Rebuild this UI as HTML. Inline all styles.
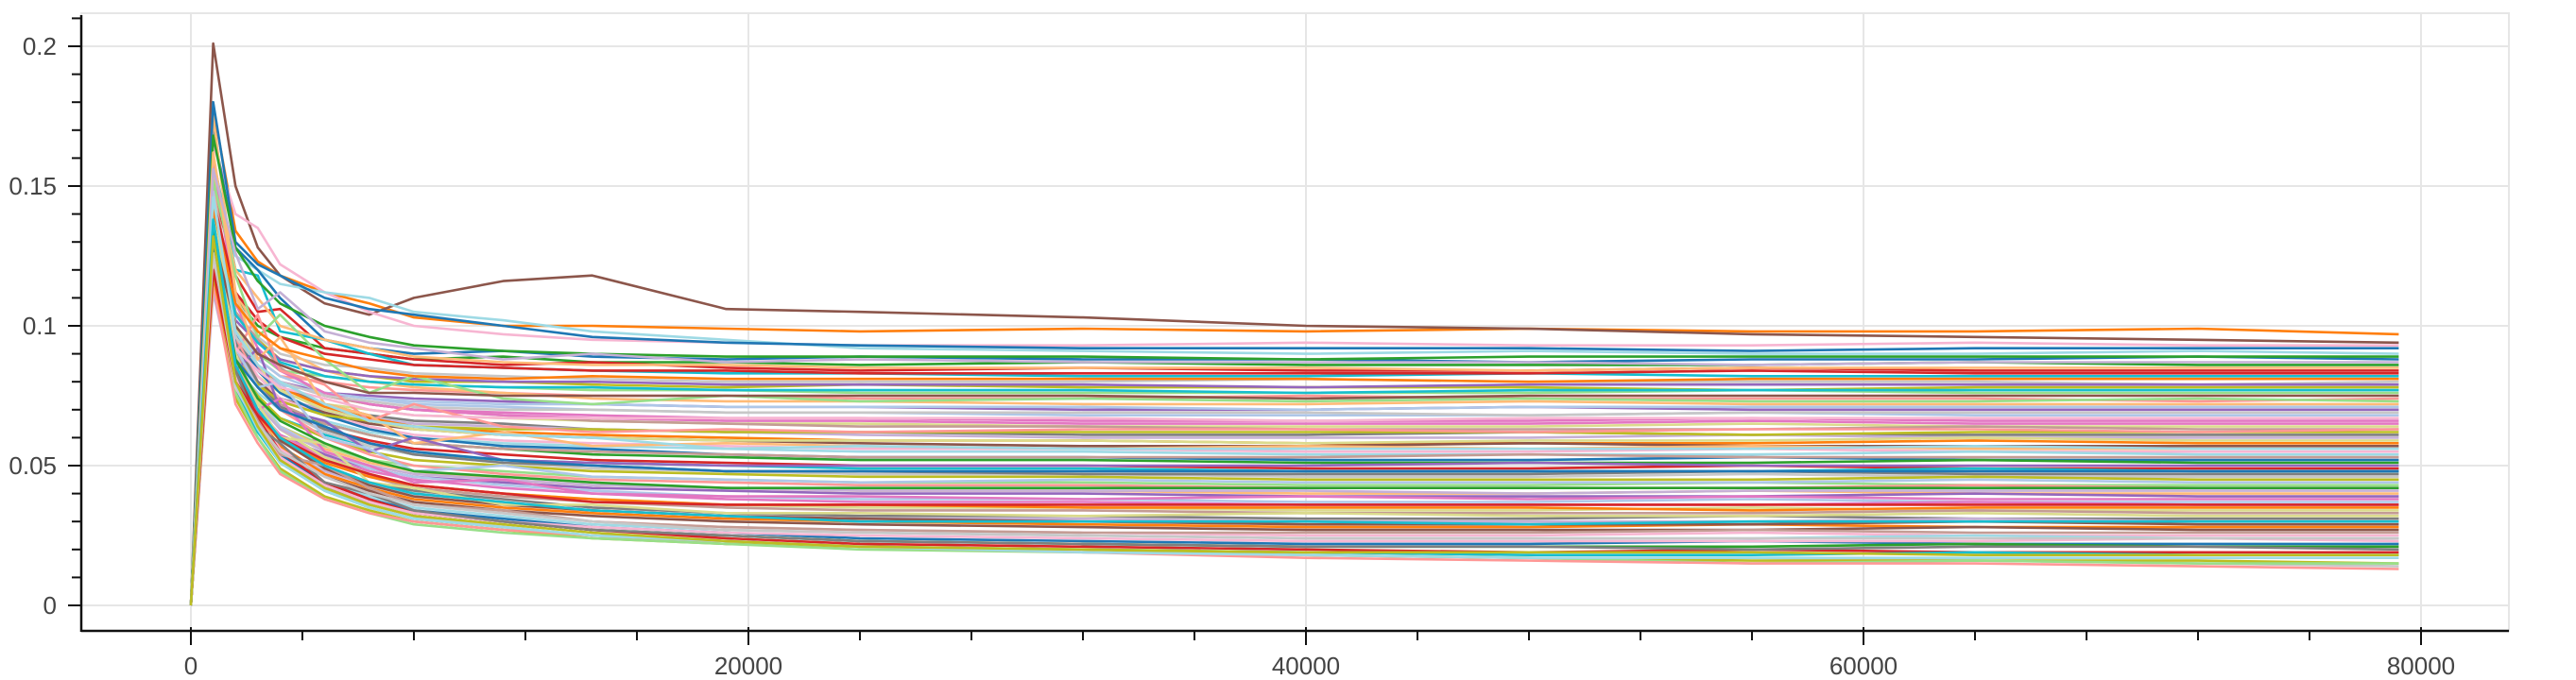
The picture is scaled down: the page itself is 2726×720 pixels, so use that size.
<!DOCTYPE html>
<html><head><meta charset="utf-8">
<style>
html,body{margin:0;padding:0;background:#fff;}
svg{display:block;}
text{font-family:"Liberation Sans",sans-serif;fill:#444;}
</style></head>
<body>
<svg id="chart" width="2726" height="720" viewBox="0 0 2726 720" xmlns="http://www.w3.org/2000/svg">
<g id="grid"></g>
<g id="series"></g>
<g id="axes"></g>
</svg>
<script>
const xSteps = [0,800,1600,2400,3200,4800,6400,8000,11200,14400,19200,24000,32000,40000,48000,56000,64000,72000,79200];
const xTickValues = [0,20000,40000,60000,80000];
const xTickLabels = ["0","20000","40000","60000","80000"];
const yTickValues = [0,0.05,0.1,0.15,0.2];
const yTickLabels = ["0","0.05","0.1","0.15","0.2"];
// series values in thousandths
const s1=[0,178,134,123,118,112,108,103,100,100,99,98,99,98,99,98,98,99,97];
const s2=[0,201,150,128,118,108,104,110,116,118,106,105,103,100,99,97,96,95,94];
const s3=[0,165,140,135,122,112,105,100,97,95,94,93,93,94,93,93,94,93,93];
const s4=[0,150,125,120,115,112,110,105,102,98,95,92,91,90,91,90,90,91,90];
const s5=[0,170,128,120,110,95,92,90,91,89,88,89,88,88,87,88,88,89,88];
const s6=[0,140,110,100,96,92,90,88,89,87,87,86,87,86,86,86,87,86,86];
const s7=[0,150,118,105,106,92,90,88,86,87,85,84,85,84,84,85,84,84,84];
const s8=[0,160,120,118,98,95,90,86,85,84,83,83,82,82,83,82,82,82,82];
const s9=[0,145,110,96,90,86,85,83,82,81,80,80,80,81,80,80,80,79,80];
const s10=[0,140,105,95,88,84,82,80,80,79,78,79,78,78,78,77,78,78,78];
const s11=[0,135,100,90,84,82,80,79,78,77,77,76,76,76,76,77,76,76,76];
const s12=[0,130,98,88,82,80,78,77,76,75,75,74,74,75,74,74,74,73,74];
const s13=[0,175,112,98,92,84,80,78,76,74,73,73,72,72,73,72,72,72,72];
const s14=[0,125,94,85,80,76,75,74,73,72,71,71,70,70,71,70,70,70,70];
const s15=[0,140,100,88,82,76,74,72,71,70,69,69,68,68,68,69,68,68,68];
const s16=[0,128,96,85,80,75,72,70,69,68,67,67,66,66,66,67,66,66,66];
const s17=[0,120,90,82,76,72,70,68,67,66,65,65,64,64,64,65,64,64,64];
const s18=[0,150,105,95,85,75,72,70,68,66,65,64,64,63,63,63,64,63,63];
const s19=[0,132,95,84,78,72,68,66,65,63,62,62,61,61,62,61,61,61,61];
const s20=[0,118,88,80,74,70,67,65,64,63,62,61,60,60,60,61,60,60,60];
const s21=[0,140,98,86,78,71,67,64,62,61,60,59,59,58,58,58,59,58,58];
const s22=[0,125,90,80,74,69,65,63,61,60,59,58,57,57,58,57,57,57,57];
const s23=[0,135,94,82,74,68,64,61,59,58,57,56,56,55,55,56,55,55,55];
const s24=[0,115,85,76,70,66,62,60,58,57,56,55,55,54,54,54,55,54,54];
const s25=[0,145,98,84,76,68,63,60,57,56,54,53,53,52,52,53,52,52,52];
const s26=[0,122,88,78,71,65,61,58,56,54,53,52,52,51,51,51,52,51,51];
const s27=[0,130,90,78,70,63,59,56,54,52,51,50,50,49,49,50,49,49,49];
const s28=[0,118,84,74,67,61,57,54,52,51,50,49,49,48,48,48,49,48,48];
const s29=[0,138,92,79,70,62,57,54,51,49,48,47,47,46,46,47,46,46,46];
const s30=[0,125,86,75,67,60,55,52,50,48,47,46,46,45,45,45,46,45,45];
const s31=[0,120,84,72,64,57,52,50,48,46,45,44,44,43,43,44,43,43,43];
const s32=[0,150,96,80,70,60,54,50,47,45,44,43,43,42,42,42,43,42,42];
const s33=[0,128,86,73,64,56,51,48,45,43,42,41,41,40,40,41,40,40,40];
const s34=[0,115,80,69,61,54,49,46,44,42,41,40,40,39,39,39,40,39,39];
const s35=[0,135,88,74,64,55,49,46,43,41,39,38,38,37,37,38,37,37,37];
const s36=[0,122,83,70,61,53,48,45,42,40,38,37,37,36,36,36,37,36,36];
const s37=[0,140,88,73,63,53,47,43,40,38,36,35,35,34,34,35,34,34,34];
const s38=[0,118,80,68,59,51,46,42,39,37,35,34,34,33,33,33,34,33,33];
const s39=[0,130,84,70,60,50,44,41,38,35,33,32,32,31,31,32,31,31,31];
const s40=[0,112,76,65,56,48,43,40,37,34,32,31,31,30,30,30,31,30,30];
const s41=[0,125,80,67,57,47,42,38,35,33,31,30,29,28,28,29,28,28,28];
const s42=[0,118,77,64,55,46,41,37,34,32,30,29,28,27,27,27,28,27,27];
const s43=[0,132,82,67,56,46,40,36,33,30,28,27,26,25,25,26,25,25,25];
const s44=[0,115,75,62,53,44,39,35,32,29,27,26,25,24,24,24,25,24,24];
const s45=[0,128,80,65,54,44,38,34,31,28,26,24,23,22,22,23,22,22,22];
const s46=[0,120,76,62,52,42,37,33,30,27,25,23,22,21,21,21,22,21,21];
const s47=[0,140,84,67,55,44,38,33,30,27,24,22,21,20,19,20,19,19,19];
const s48=[0,125,78,62,51,41,35,31,28,25,23,21,20,19,18,18,19,18,18];
const s49=[0,135,80,64,52,42,36,32,28,25,22,21,20,18,17,17,16,15,14];
const s50=[0,120,74,60,49,39,34,30,27,24,22,21,20,18,17,16,16,16,15];
const s51=[0,128,76,60,48,38,33,29,26,24,22,20,19,18,17,15,16,15,15];
const s52=[0,115,72,58,47,38,33,30,27,25,23,21,19,17,16,15,15,14,13];
const s53=[0,155,120,110,100,95,92,89,87,86,86,85,85,85,84,85,85,85,85];
const s54=[0,130,102,94,88,84,82,81,80,80,79,79,79,78,79,79,79,79,79];
const s55=[0,120,92,84,79,76,74,73,72,72,71,71,71,70,71,71,71,71,71];
const s56=[0,160,108,92,84,76,72,70,68,67,66,66,65,65,65,66,65,65,65];
const s57=[0,148,100,86,77,70,66,63,61,60,59,59,59,58,59,59,60,59,59];
const s58=[0,128,90,79,72,65,61,58,56,55,54,53,53,53,54,53,53,53,53];
const s59=[0,142,94,80,71,63,58,54,51,50,48,48,47,47,47,48,47,47,47];
const s60=[0,124,84,72,63,55,50,47,45,43,42,41,41,41,40,41,41,41,41];
const s61=[0,118,80,68,59,51,46,43,40,38,36,36,35,35,35,34,35,35,35];
const s62=[0,132,84,70,59,49,43,39,36,34,32,31,30,29,29,29,30,29,29];
const s63=[0,122,78,64,53,43,37,33,30,28,26,25,24,23,23,23,23,24,23];
const s64=[0,130,79,63,51,41,35,31,28,25,23,21,19,18,17,17,17,17,17];
const s65=[0,180,130,122,118,110,106,104,100,96,94,93,92,92,92,91,92,92,92];
const s66=[0,168,128,116,108,100,96,93,91,90,89,89,89,88,89,89,89,89,89];
const s67=[0,145,112,102,96,90,88,86,85,84,84,83,83,83,83,84,83,83,83];
const s68=[0,138,104,94,87,82,80,79,78,78,77,77,77,76,77,77,77,77,77];
const s69=[0,128,96,86,80,75,73,71,70,70,69,69,69,69,68,69,69,69,69];
const s70=[0,118,88,79,73,68,66,64,63,63,62,62,62,62,62,61,62,62,62];
const s71=[0,152,118,96,104,88,76,82,74,72,75,73,74,73,74,73,73,74,73];
const s72=[0,136,90,104,84,79,66,72,64,62,63,62,63,63,62,63,63,62,63];
const s73=[0,162,112,88,96,72,68,58,62,57,58,57,56,57,56,57,56,56,56];
const s74=[0,126,84,92,70,66,55,60,52,51,50,50,50,50,51,50,50,50,50];
const s75=[0,148,92,78,80,60,56,48,50,46,45,44,45,44,44,44,45,44,44];
const s76=[0,131,86,70,74,55,50,44,45,40,39,39,38,39,38,39,38,38,38];
const s77=[0,144,90,72,60,58,44,42,36,36,33,33,32,33,32,32,33,32,32];
const s78=[0,122,80,66,54,50,42,36,34,30,28,27,26,26,26,27,26,26,26];
const s79=[0,138,84,64,58,44,40,34,30,27,25,23,22,21,21,20,21,21,20];
const s80=[0,156,126,106,112,98,94,92,88,90,87,88,87,87,87,86,87,87,87];
const s81=[0,142,108,98,92,88,84,82,81,82,81,81,81,81,80,81,81,81,81];
const s82=[0,133,100,90,86,80,76,76,75,75,75,75,75,74,75,75,75,75,75];
const s83=[0,124,92,84,78,74,70,68,67,67,67,67,67,66,67,67,67,67,67];
const s84=[0,146,98,86,80,72,66,64,61,60,56,57,56,56,56,56,57,56,56];
const s85=[0,128,88,78,70,64,58,55,52,50,48,48,48,48,48,48,48,48,48];
const s86=[0,134,88,74,66,58,52,48,46,44,42,42,42,42,42,42,42,42,42];
const s87=[0,120,80,68,60,52,47,43,40,37,36,36,36,36,36,36,36,36,36];
const s88=[0,138,86,70,60,50,44,40,37,34,32,30,30,30,29,30,30,30,30];
const s89=[0,126,80,65,55,46,40,36,33,30,27,26,25,24,24,24,24,24,24];
const s90=[0,132,80,64,52,42,36,32,29,26,23,21,20,19,19,19,18,18,18];
const seriesList=[s1,s2,s3,s4,s5,s6,s7,s8,s9,s10,s11,s12,s13,s14,s15,s16,s17,s18,s19,s20,s21,s22,s23,s24,s25,s26,s27,s28,s29,s30,s31,s32,s33,s34,s35,s36,s37,s38,s39,s40,s41,s42,s43,s44,s45,s46,s47,s48,s49,s50,s51,s52,s53,s54,s55,s56,s57,s58,s59,s60,s61,s62,s63,s64,s65,s66,s67,s68,s69,s70,s71,s72,s73,s74,s75,s76,s77,s78,s79,s80,s81,s82,s83,s84,s85,s86,s87,s88,s89,s90];
const palette=["#ff7f0e","#8c564b","#f7b6d2","#9edae5","#1f77b4","#2ca02c","#d62728","#17becf","#c7c7c7","#bcbd22","#98df8a","#ff9896","#ffbb78","#9467bd","#aec7e8","#e377c2","#dbdb8d","#c49c94","#7f7f7f","#c5b0d5"];

const NS="http://www.w3.org/2000/svg";
const X0=202, XK=590/20000, Y0=641, YK=2960;
function xs(v){return X0+v*XK;}
function ys(v){return Y0-v*YK;}
function mk(tag,attrs,parent){const e=document.createElementNS(NS,tag);for(const k in attrs)e.setAttribute(k,attrs[k]);parent.appendChild(e);return e;}
const grid=document.getElementById('grid'),ser=document.getElementById('series'),axes=document.getElementById('axes');
const PL=86,PR=2655,PT=14,PB=668;
const fr=mk('rect',{x:PL,y:PT,width:PR-PL,height:PB-PT,fill:'none',stroke:'#e6e6e6','stroke-width':2},grid);


xTickValues.forEach(v=>{const l=mk('line',{x1:xs(v),x2:xs(v),y1:PT,y2:PB,stroke:'#e6e6e6','stroke-width':2},grid);

});
yTickValues.forEach(v=>{const l=mk('line',{x1:PL,x2:PR,y1:ys(v),y2:ys(v),stroke:'#e6e6e6','stroke-width':2},grid);

});
seriesList.forEach((s,i)=>{
  const pts=s.map((v,j)=>xs(xSteps[j]).toFixed(1)+','+ys(v/1000).toFixed(1)).join(' ');
  const p=mk('polyline',{points:pts,fill:'none',stroke:palette[i%palette.length],'stroke-width':2.6,'stroke-linejoin':'round'},ser);
  
  
});
const ya=mk('line',{x1:PL,x2:PL,y1:PT+2,y2:PB+1,stroke:'#111','stroke-width':2.5},axes);


const xa=mk('line',{x1:PL,x2:PR,y1:PB,y2:PB,stroke:'#111','stroke-width':2.5},axes);


for(let k=-1;k<=21;k++){const v=k/100;const y=ys(v);if(y<PT-1||y>PB)continue;
  const major=k%5===0&&k>=0&&k<=20;
  const t=mk('line',{x1:major?72:76,x2:PL,y1:y,y2:y,stroke:'#111','stroke-width':2},axes);
  
  }
yTickValues.forEach((v,i)=>{const t=mk('text',{x:60,y:ys(v)+9,'text-anchor':'end','font-size':26},axes);t.textContent=yTickLabels[i];

});
for(let v=-8000;v<=88000;v+=4000){const x=xs(v);if(x<PL||x>PR)continue;
  const major=v%20000===0;
  const t=mk('line',{x1:x,x2:x,y1:major?664:PB,y2:major?683:678,stroke:'#111','stroke-width':2},axes);
  
  }
xTickValues.forEach((v,i)=>{const t=mk('text',{x:xs(v),y:714,'text-anchor':'middle','font-size':26},axes);t.textContent=xTickLabels[i];

});
</script>
</body></html>
